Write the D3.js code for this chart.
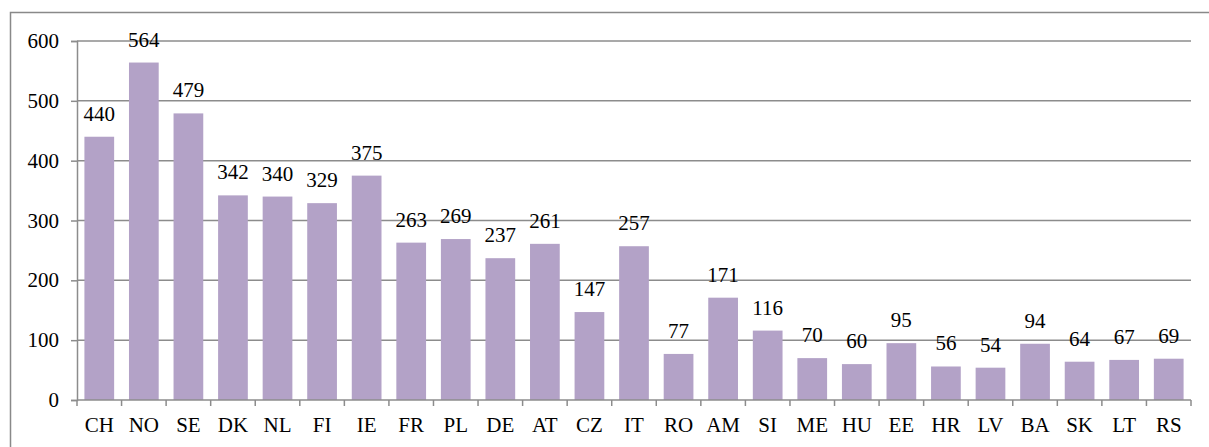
<!DOCTYPE html>
<html>
<head>
<meta charset="utf-8">
<script src="https://cdn.jsdelivr.net/npm/d3@7"></script>
</head>
<body style="margin:0">
<svg id="container" width="1209" height="447"></svg>
<script>
const countries = ['CH', 'NO', 'SE', 'DK', 'NL', 'FI', 'IE', 'FR', 'PL', 'DE', 'AT', 'CZ', 'IT',
  'RO', 'AM', 'SI', 'ME', 'HU', 'EE', 'HR', 'LV', 'BA', 'SK', 'LT', 'RS']
const values = [440, 564, 479, 342, 340, 329, 375, 263, 269, 237, 261, 147, 257,
  77, 171, 116, 70, 60, 95, 56, 54, 94, 64, 67, 69]
const yTicks = [0, 100, 200, 300, 400, 500, 600]

const margin = { top: 41, right: 18, bottom: 47, left: 77 }
const width = 1209
const height = 447
const fontSize = 21
const serif = 'Liberation Serif'

const svg = d3.select('#container')

// outer frame
svg.append('rect')
  .attr('x', 10.5).attr('y', 12.5)
  .attr('width', 1220).attr('height', 460)
  .attr('fill', 'none').attr('stroke', '#898989').attr('stroke-width', 1.5)

// scales in page coordinates
const x = d3.scaleBand().domain(countries)
  .range([margin.left, width - margin.right])
  .paddingInner(0.333).paddingOuter(0.1665)
const y = d3.scaleLinear().domain([0, 600]).range([height - margin.bottom, margin.top])
const step = x.step()

// gridlines
svg.append('g')
  .selectAll('line')
  .data(yTicks.filter(d => d > 0))
  .join('line')
  .attr('x1', margin.left).attr('x2', width - margin.right)
  .attr('y1', d => y(d)).attr('y2', d => y(d))
  .attr('stroke', '#8c8c8c').attr('stroke-width', 1.5)

// bars
svg.append('g')
  .selectAll('rect')
  .data(values)
  .join('rect')
  .attr('x', (d, i) => x(countries[i]))
  .attr('y', d => y(d))
  .attr('width', x.bandwidth())
  .attr('height', d => y(0) - y(d))
  .attr('fill', '#b3a2c7')

// y axis line + ticks
const yAxis = svg.append('g')
  .attr('transform', `translate(${margin.left},0)`)
  .call(d3.axisLeft(y).tickValues(yTicks).tickSize(6).tickFormat(''))
yAxis.selectAll('line, path').attr('stroke', '#8c8c8c').attr('stroke-width', 1.5)

// x axis line + ticks at band boundaries
svg.append('line')
  .attr('x1', margin.left).attr('x2', width - margin.right)
  .attr('y1', y(0)).attr('y2', y(0))
  .attr('stroke', '#8c8c8c').attr('stroke-width', 1.5)
svg.append('g')
  .selectAll('line')
  .data(d3.range(countries.length + 1))
  .join('line')
  .attr('x1', i => margin.left + step * i)
  .attr('x2', i => margin.left + step * i)
  .attr('y1', y(0)).attr('y2', y(0) + 6)
  .attr('stroke', '#8c8c8c').attr('stroke-width', 1.5)

// y tick labels
svg.selectAll('text.ytick')
  .data(yTicks)
  .join('text')
  .attr('class', 'ytick')
  .attr('x', margin.left - 18)
  .attr('y', d => y(d) + 7)
  .attr('text-anchor', 'end')
  .attr('font-family', serif)
  .attr('font-size', fontSize)
  .text(d => d)

// category labels
svg.selectAll('text.cat')
  .data(countries)
  .join('text')
  .attr('class', 'cat')
  .attr('x', d => x(d) + x.bandwidth() / 2)
  .attr('y', y(0) + 31.5)
  .attr('text-anchor', 'middle')
  .attr('font-family', serif)
  .attr('font-size', fontSize)
  .text(d => d)

// value labels
svg.selectAll('text.val')
  .data(values)
  .join('text')
  .attr('class', 'val')
  .attr('x', (d, i) => x(countries[i]) + x.bandwidth() / 2)
  .attr('y', d => y(d) - 16)
  .attr('text-anchor', 'middle')
  .attr('font-family', serif)
  .attr('font-size', fontSize)
  .text(d => d)
</script>
</body>
</html>
